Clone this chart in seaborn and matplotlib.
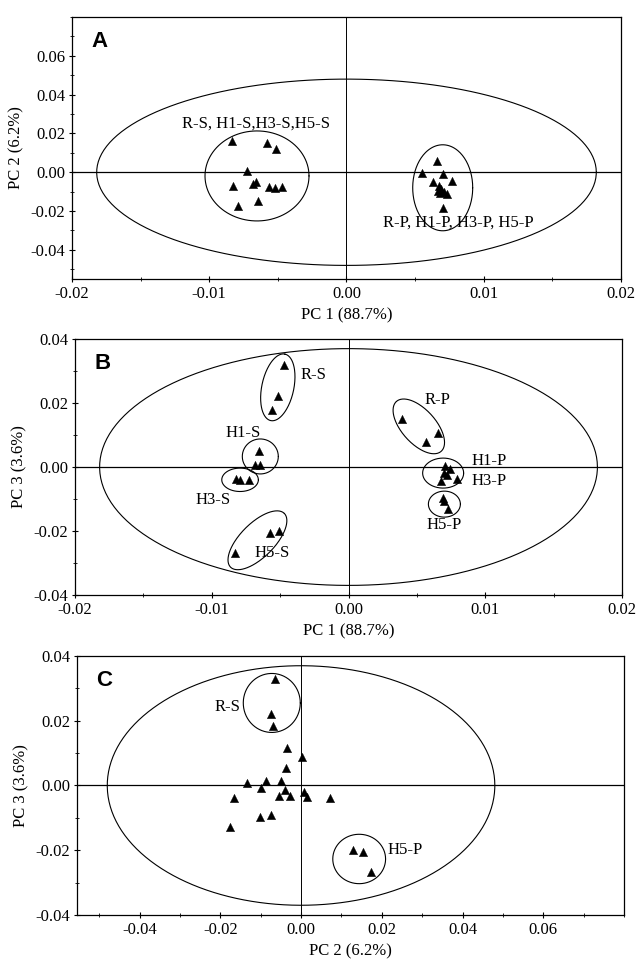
import numpy as np
import pandas as pd
import matplotlib
matplotlib.use("Agg")
import matplotlib.pyplot as plt
from matplotlib.ticker import MultipleLocator, FixedLocator, FuncFormatter
import seaborn as sns

############ SCORES #######################################

# panel A: PC1 vs PC2, 12 "S" samples then 12 "P" samples
a_pc1 = [-0.00834, -0.00580, -0.00515, -0.00722, -0.00825, -0.00678, -0.00657, -0.00565,
         -0.00518, -0.00470, -0.00793, -0.00645,
         0.00663, 0.00550, 0.00704, 0.00772, 0.00633, 0.00675, 0.00683, 0.00731,
         0.00704, 0.00690, 0.00710, 0.00670]
a_pc2 = [0.0160, 0.0150, 0.0121, 0.0005, -0.0069, -0.0060, -0.0048, -0.0078,
         -0.0081, -0.0074, -0.0174, -0.0147,
         0.0057, -0.0005, -0.0009, -0.0043, -0.0052, -0.0069, -0.0109, -0.0112,
         -0.0186, -0.0086, -0.0103, -0.0095]

# panel B: PC1 vs PC3
b_pc1 = [-0.00475, -0.00514, -0.00562,   # R-S
         -0.00654, -0.00681, -0.00645,   # H1-S
         -0.00823, -0.00793, -0.00725,   # H3-S
         -0.00574, -0.00508, -0.00829,   # H5-S
         0.00390, 0.00567, 0.00653,      # R-P
         0.00706, 0.00743, 0.00699, 0.00792, 0.00675, 0.00720,  # H1-P, H3-P
         0.00690, 0.00700, 0.00725]      # H5-P
b_pc3 = [0.0320, 0.0221, 0.0179,
         0.0049, 0.0007, 0.0005,
         -0.0036, -0.0040, -0.0040,
         -0.0206, -0.0201, -0.0269,
         0.0149, 0.0079, 0.0107,
         0.0003, -0.0007, -0.0018, -0.0038, -0.0044, -0.0025,
         -0.0097, -0.0107, -0.0130]

# panel C: PC2 vs PC3
c_pc2 = [-0.00645, -0.00745, -0.00685,
         -0.00352, 0.00030, -0.00373, -0.01330, -0.00866, -0.00504, -0.00987, -0.00403,
         -0.00554, -0.00262, 0.00080, 0.00151, 0.00705, -0.01652, -0.01007, -0.00745, -0.01762,
         0.01279, 0.01541, 0.01742]
c_pc3 = [0.0328, 0.0222, 0.0184,
         0.0115, 0.0089, 0.0055, 0.0007, 0.0013, 0.0013, -0.0008, -0.0014,
         -0.0031, -0.0031, -0.0021, -0.0036, -0.0040, -0.0039, -0.0097, -0.0091, -0.0127,
         -0.0199, -0.0206, -0.0268]

# Hotelling T2 limits (semi-axes) for PC1, PC2, PC3
t2_pc1 = 0.0182
t2_pc2 = 0.048
t2_pc3 = 0.037

# tick labels
pc1_ticks = [-0.02, -0.01, 0.00, 0.01, 0.02]
pc2_ticks = [-0.04, -0.02, 0.00, 0.02, 0.04, 0.06]
pc3_ticks = [-0.04, -0.02, 0.00, 0.02, 0.04]

# group labels: text, x, y
a_labels = [("R-S, H1-S,H3-S,H5-S", -0.00657, 0.0250),
            ("R-P, H1-P, H3-P, H5-P", 0.00817, -0.0262)]
b_labels = [("R-S", -0.00259, 0.0289), ("H1-S", -0.00773, 0.0106),
            ("H3-S", -0.00987, -0.0102), ("H5-S", -0.00556, -0.0269),
            ("R-P", 0.00648, 0.0210), ("H1-P", 0.01028, 0.0018),
            ("H3-P", 0.01028, -0.0045), ("H5-P", 0.00698, -0.0180)]
c_labels = [("R-S", -0.01833, 0.0243), ("H5-P", 0.02568, -0.0198)]

# group rings: centre x, centre y (data), semi-axes in px, angle
a_rings = [(-0.00652, -0.0019, 52, 45, 0), (0.00701, -0.0080, 30, 43, 0)]
b_rings = [(-0.00517, 0.0249, 34, 16, 78), (-0.00645, 0.0033, 18, 17.5, 0),
           (-0.00793, -0.0040, 18.3, 11.7, 0), (-0.00666, -0.0229, 38, 17, 45),
           (0.00514, 0.0127, 33.5, 17, 132), (0.00692, -0.0019, 20.5, 15, 0),
           (0.00701, -0.0116, 16, 13, 0)]
c_rings = [(-0.00725, 0.0255, 28.5, 29.5, 0), (0.0144, -0.0227, 26.4, 24.7, 0)]

############ PLOT #################

sns.set_theme(style="ticks")
plt.rcParams["font.family"] = ["Liberation Serif", "DejaVu Serif"]
plt.rcParams["axes.unicode_minus"] = False
for k in ["text.color", "axes.labelcolor", "xtick.color", "ytick.color", "axes.edgecolor"]:
    plt.rcParams[k] = "black"

fig = plt.figure(figsize=(6.41, 9.67), dpi=100)
ax_a = fig.add_axes([0.1123, 0.7115, 0.8565, 0.2709])
ax_b = fig.add_axes([0.1170, 0.3847, 0.8534, 0.2647])
ax_c = fig.add_axes([0.1201, 0.0538, 0.8534, 0.2678])

fmt = FuncFormatter(lambda v, p: f"{v:.2f}")


def setup(ax, xlim, ylim, xticks, xmin, yticks, ymin, xlabel, ylabel, letter):
    ax.set_xlim(xlim)
    ax.set_ylim(ylim)
    ax.xaxis.set_major_locator(FixedLocator(xticks))
    ax.xaxis.set_minor_locator(MultipleLocator(xmin))
    ax.yaxis.set_major_locator(FixedLocator(yticks))
    ax.yaxis.set_minor_locator(MultipleLocator(ymin))
    ax.xaxis.set_major_formatter(fmt)
    ax.yaxis.set_major_formatter(fmt)
    ax.tick_params(which="major", direction="inout", length=4, width=0.8,
                   labelsize=12, colors="black", pad=3)
    ax.tick_params(which="minor", direction="inout", length=3, width=0.6)
    for s in ax.spines.values():
        s.set_linewidth(0.9)
        s.set_color("black")
    ax.axhline(0, color="black", lw=0.9, zorder=1)
    ax.axvline(0, color="black", lw=0.7, zorder=1)
    ax.text(0.035, 0.905, letter, transform=ax.transAxes, fontsize=16,
            fontweight="bold", family="Liberation Sans", va="center", color="black")


def t2_ellipse(ax, rx, ry):
    t = np.linspace(0, 2 * np.pi, 300)
    ax.plot(rx * np.cos(t), ry * np.sin(t), color="black", lw=0.8, zorder=1)


def group_ring(ax, cx, cy, a, b, ang):
    t = np.linspace(0, 2 * np.pi, 200)
    th = np.deg2rad(ang)
    dx = a * np.cos(t) * np.cos(th) - b * np.sin(t) * np.sin(th)
    dy = a * np.cos(t) * np.sin(th) + b * np.sin(t) * np.cos(th)
    c = ax.transData.transform((cx, cy))
    pts = ax.transData.inverted().transform(np.column_stack([c[0] + dx, c[1] + dy]))
    ax.plot(pts[:, 0], pts[:, 1], color="black", lw=0.8, zorder=1)


panels = [
    (ax_a, pd.DataFrame({"x": a_pc1, "y": a_pc2}), (-0.02, 0.02), (-0.055, 0.08),
     pc1_ticks, 0.005, pc2_ticks, 0.01, "PC 1 (88.7%)", "PC 2 (6.2%)", "A",
     (t2_pc1, t2_pc2), a_labels, a_rings),
    (ax_b, pd.DataFrame({"x": b_pc1, "y": b_pc3}), (-0.02, 0.02), (-0.04, 0.04),
     pc1_ticks, 0.005, pc3_ticks, 0.01, "PC 1 (88.7%)", "PC 3 (3.6%)", "B",
     (t2_pc1, t2_pc3), b_labels, b_rings),
    (ax_c, pd.DataFrame({"x": c_pc2, "y": c_pc3}), (-0.0555, 0.08), (-0.04, 0.04),
     pc2_ticks, 0.01, pc3_ticks, 0.01, "PC 2 (6.2%)", "PC 3 (3.6%)", "C",
     (t2_pc2, t2_pc3), c_labels, c_rings),
]

for ax, df, xl, yl, xt, xmin, yt, ymin, xlab, ylab, letter, t2, labels, rings in panels:
    setup(ax, xl, yl, xt, xmin, yt, ymin, xlab, ylab, letter)
    t2_ellipse(ax, *t2)
    sns.scatterplot(data=df, x="x", y="y", marker="^", color="black", s=36,
                    edgecolor="black", linewidth=0.3, ax=ax, zorder=3, legend=False)
    ax.set_xlabel(xlab, fontsize=12, labelpad=4)
    ax.set_ylabel(ylab, fontsize=12, labelpad=4)
    ax.set_xlim(xl)
    ax.set_ylim(yl)
    for txt, x, y in labels:
        ax.text(x, y, txt, ha="center", va="center", fontsize=12, zorder=4)
    for r in rings:
        group_ring(ax, *r)

fig.savefig("out.png", dpi=100)
